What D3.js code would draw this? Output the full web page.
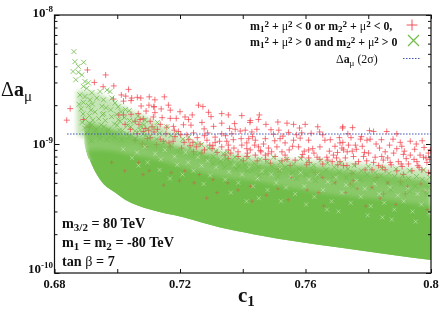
<!DOCTYPE html>
<html>
<head>
<meta charset="utf-8">
<script src="https://cdnjs.cloudflare.com/ajax/libs/d3/7.8.5/d3.min.js"></script>
<style>
html, body { margin: 0; padding: 0; background: #fff; }
svg { display: block; filter: blur(0.35px); }
text { font-family: "Liberation Serif", serif; font-weight: bold; fill: #111; }
</style>
</head>
<body>
<div id="chart"></div>
<script>
// all delta a values are in units of 1e-9
const xTicks = [0.68, 0.70, 0.72, 0.74, 0.76, 0.78, 0.80];
const xTickLabels = ['0.68', '', '0.72', '', '0.76', '', '0.8'];
const yMajor = [0.1, 1, 10];
const yExponents = ['-10', '-9', '-8'];
const yLabelShift = [0, 4, 2];
const yMinor = [0.2, 0.3, 0.4, 0.5, 0.6, 0.7, 0.8, 0.9, 2, 3, 4, 5, 6, 7, 8, 9];

const limitC1 = [0.684, 0.80];
const limitValue = 1.195;

// edges of the green mass
const massC1 = [0.6895, 0.6913, 0.6945, 0.6993, 0.7025, 0.7105, 0.721, 0.7328, 0.7433, 0.7592, 0.7701, 0.786, 0.80];
const massFloor = [1.02, 0.75, 0.53, 0.42, 0.37, 0.31, 0.27, 0.225, 0.2, 0.172, 0.158, 0.14, 0.126];
const massCeiling = [0.9, 0.9, 0.9, 0.88, 0.84, 0.78, 0.66, 0.56, 0.52, 0.44, 0.4, 0.37, 0.33];
const massHaze = [1.45, 1.45, 1.4, 1.3, 1.2, 1.1, 0.93, 0.8, 0.72, 0.68, 0.64, 0.58, 0.52];

// thin outer fringe of the mass
const fringeC1 = [0.687, 0.69, 0.695, 0.70, 0.705, 0.71, 0.715, 0.72, 0.73, 0.74, 0.76, 0.78, 0.80];
const fringeTop = [2.6, 2.6, 2.4, 2.1, 1.8, 1.6, 1.35, 1.15, 0.95, 0.82, 0.75, 0.7, 0.63];
const fringeBottom = [1.2, 1.1, 1.1, 1.0, 1.0, 0.9, 0.85, 0.8, 0.7, 0.6, 0.55, 0.5, 0.45];

const redPoints = [
  [.6839,1.53],[.685,1.88],[.6905,3.75],[.6927,3.0],[.6963,3.43],[.6955,2.78],[.6989,2.82],[.7036,2.65],[.7013,2.4],[.7027,2.35],
  [.7046,2.27],[.7064,2.3],[.7075,2.27],[.7102,2.32],[.6988,2.23],[.702,2.15],[.7044,2.17],[.7101,2.0],[.7117,1.94],[.7005,1.68],
  [.702,1.68],[.7044,1.7],[.7076,1.97],[.7092,1.8],[.7067,1.72],[.7057,1.5],[.7083,1.57],[.7073,1.55],[.7115,1.62],[.7089,1.32],
  [.71,1.28],[.7083,1.25],[.7111,1.36],[.7057,1.07],[.708,1.0],[.7092,.95],[.6911,1.35],[.6892,1.55],[.715,2.32],[.712,2.2],
  [.7117,1.95],[.714,1.87],[.7163,2.0],[.7169,1.83],[.712,1.75],[.7259,2.0],[.7273,1.95],[.7291,1.76],[.72,1.78],[.7216,1.62],
  [.7239,1.68],[.7169,1.58],[.7188,1.58],[.7227,1.55],[.7299,1.63],[.7333,1.72],[.7354,1.68],[.7397,1.66],[.7374,1.44],[.7423,1.47],
  [.727,1.47],[.7307,1.37],[.7333,1.45],[.7158,1.35],[.7179,1.37],[.7137,1.42],[.7211,1.41],[.7243,1.22],[.7277,1.31],[.7222,1.18],
  [.7184,1.14],[.7117,1.24],[.7345,1.16],[.7376,1.3],[.7392,1.26],[.7419,1.1],[.7333,1.2],[.7312,1.13],[.7312,1.03],[.737,1.08],
  [.7354,.98],[.7354,.9],[.7286,1.07],[.7264,1.0],[.7232,.97],[.7213,1.03],[.7169,.95],[.7137,1.09],[.7397,.98],[.7385,.87],
  [.7413,.92],[.7333,.95],[.7295,.98],[.727,.85],[.7243,.87],[.7354,.77],[.7385,.8],[.7155,1.2],[.7195,1.25],[.7255,1.12],
  [.7424,1.52],[.7453,1.68],[.745,1.55],[.7474,1.42],[.7512,1.48],[.7541,1.45],[.7562,1.42],[.7581,1.33],[.7599,1.42],[.7639,1.36],
  [.7718,1.33],[.7429,1.24],[.749,1.29],[.7498,1.19],[.7546,1.23],[.761,1.07],[.7519,1.1],[.7472,1.1],[.744,1.07],[.7413,1.02],
  [.7562,1.07],[.7583,1.11],[.7662,1.07],[.7646,.95],[.761,.9],[.7578,.95],[.7535,1.02],[.7509,.95],[.7482,.93],[.745,.95],
  [.7424,.9],[.7694,.96],[.771,1.02],[.7721,.9],[.744,.82],[.7413,.8],[.7472,.82],[.7503,.8],[.7535,.82],[.7567,.75],
  [.7588,.79],[.761,.78],[.7646,.76],[.7668,.79],[.7689,.82],[.771,.73],[.7721,.68],[.7551,.68],[.7631,.6],[.7514,.63],
  [.7719,1.36],[.775,1.34],[.7804,1.27],[.7859,1.25],[.7891,1.2],[.7817,1.25],[.7796,1.07],[.7806,1.09],[.7879,1.09],[.7934,1.05],
  [.7953,1.0],[.7775,1.09],[.7719,1.03],[.7737,.98],[.7759,.98],[.7716,.93],[.7907,.96],[.7891,.92],[.7836,.93],[.7854,.87],
  [.7843,.8],[.7881,.85],[.7912,.83],[.7934,.82],[.7965,.82],[.7992,.85],[.7976,.79],[.7785,.8],[.7801,.85],[.7753,.8],
  [.7727,.78],[.7769,.73],[.7817,.72],[.7833,.68],[.787,.72],[.7896,.73],[.7928,.7],[.7955,.73],[.7987,.72],[.7732,.68],
  [.779,.63],[.7812,.63],[.7854,.63],[.7891,.62],[.7939,.62],[.7971,.63],[.7992,.6],[.7748,.59],[.7912,.58],[.7828,.55],
  [.7902,.51],[.7743,.49],[.7849,.41],[.7918,.41],[.7981,.43],[.7446,.74],[.7488,.71],[.7525,.74],[.7604,.69],[.7655,.7],
  [.7685,.73],[.7702,.86],[.7676,.88],[.7627,.85],[.7596,.88],[.7548,.9],[.7492,.87],[.7458,.87],[.7431,1.14],[.7466,1.0],
  [.7502,1.06],[.7528,1.15],[.7571,1.18],[.7618,1.21],[.7655,1.18],[.7679,1.08],[.7708,1.12],[.7745,1.12],[.7781,.96],[.7825,1.0],
  [.7868,.98],[.7915,.88],[.7948,.91],[.7978,.94],[.7995,.76],[.7958,.68],[.7908,.67],[.7862,.78],[.7795,.74],[.7749,.88],
  [.7105,1.12],[.7128,1.3],[.7148,1.05],[.7178,1.05],[.7202,1.18],[.7228,1.08],[.7252,.95],[.7278,1.16],[.7302,.92],[.7326,1.05],
  [.7365,1.2],[.7395,1.1],[.7408,1.28],[.7362,.85],[.7344,.82],[.7402,.74],[.7318,.86],
  [.7438,.98],[.7456,.89],[.7481,.84],[.7525,.87],[.7559,.96],[.7591,.83],[.7623,.92],[.7637,.79],[.7671,.75],[.7699,.78],
  [.7733,.87],[.7762,.91],[.7788,.86],[.7822,.79],[.7848,.75],[.7873,.69],[.7921,.77],[.7946,.76],[.7984,.78],[.7998,.9],
  [.7473,.76],[.7541,.76],[.7612,.72],[.7703,.69],[.7759,.7],[.7845,.66],[.7905,.7],[.7962,.66],[.7415,.85],[.7372,.93],
  [.7349,1.05],[.7305,.97],[.7278,.9],[.7241,1.03],[.7205,.93],[.7165,1.02],[.7125,.99],[.7096,1.1],[.7064,1.2],[.7042,1.3],
  [.7025,1.42],[.7069,1.42],[.7105,1.5],[.7143,1.6],[.7182,1.28],[.7235,1.4],[.7288,1.22],[.7358,1.32],[.7445,1.3],[.7515,1.28],
  [.7588,1.22],[.7645,1.24],[.7735,1.2],[.7778,1.14],[.7842,1.08],[.7902,1.03],[.7972,1.06]
];

const greenPoints = [
  [.6862,5.2],[.6865,4.35],[.6893,4.3],[.6876,4.0],[.6859,3.65],[.6876,3.6],[.6887,3.43],[.6868,3.15],[.6897,3.05],[.6908,2.98],
  [.6892,2.8],[.6903,2.7],[.6881,2.4],[.6897,2.33],[.6919,2.5],[.6945,2.55],[.6967,2.62],[.6977,2.55],[.6878,2.03],[.6892,2.1],
  [.6913,2.2],[.6935,2.27],[.6956,2.2],[.6983,2.27],[.6885,1.87],[.6908,1.99],[.6921,2.04],[.6951,1.96],[.6964,1.91],[.6993,2.08],
  [.7003,1.94],[.7026,1.85],[.6891,1.71],[.6916,1.83],[.6929,1.77],[.6957,1.72],[.6979,1.84],[.6998,1.7],[.7012,1.78],[.7038,1.81],
  [.6899,1.55],[.6911,1.66],[.6941,1.57],[.6953,1.69],[.6982,1.63],[.7004,1.54],[.7023,1.6],[.7039,1.52],[.7066,1.64],[.6888,1.47],
  [.6912,1.44],[.6922,1.53],[.6949,1.41],[.6962,1.52],[.6991,1.43],[.7009,1.5],[.7033,1.39],[.7053,1.49],[.7076,1.37],[.7089,1.53],
  [.6896,1.33],[.6919,1.41],[.6933,1.3],[.6958,1.36],[.6972,1.29],[.7,1.4],[.7016,1.27],[.7043,1.36],[.7057,1.26],[.7085,1.41],
  [.7098,1.3],[.7128,1.47],[.6903,1.22],[.6928,1.27],[.6942,1.19],[.6968,1.25],[.6982,1.17],[.7007,1.28],[.7031,1.2],[.7045,1.15],
  [.7073,1.29],[.7091,1.16],[.7118,1.33],[.7135,1.21],[.7158,1.36],[.7171,1.16],[.7192,1.21],[.7209,1.09],[.7228,1.13],[.7251,1.01],
  [.7268,.99],[.7291,.93],[.7314,.88],[.7338,.84],[.7352,.86],[.7375,.79],[.7395,.75],[.7418,.78],[.7437,.71],[.7455,.76],
  [.7478,.73],[.7498,.79],[.752,.72],[.754,.76],[.7562,.7],[.7584,.77],[.7606,.74],[.7626,.68],[.7648,.75],[.767,.71],
  [.7692,.66],[.7712,.71],[.7735,.64],[.7755,.68],[.7778,.62],[.78,.67],[.7822,.6],[.7844,.65],[.7866,.59],[.7888,.64],
  [.791,.57],[.7932,.62],[.7954,.56],[.7976,.63],[.7996,.55],[.7362,.72],[.7388,.67],[.7408,.69],[.743,.63],[.745,.66],
  [.7472,.6],[.7494,.67],[.7516,.62],[.7536,.66],[.7558,.6],[.758,.64],[.7602,.58],[.7622,.63],[.7644,.57],[.7666,.63],
  [.7688,.56],[.7708,.61],[.773,.55],[.7752,.6],[.7774,.53],[.7796,.58],[.7818,.52],[.784,.57],[.7862,.5],[.7884,.56],
  [.7906,.49],[.7928,.54],[.795,.47],[.7972,.53],[.7992,.46],[.7262,.85],[.7284,.78],[.7306,.8],[.7328,.73],[.7348,.77],
  [.7172,.97],[.7148,1.03],[.7125,1.09],[.7105,1.14],[.7082,1.19],[.7058,1.1],[.7036,1.14],[.7014,1.08],[.6992,1.12],[.6966,1.08],
  [.6945,1.1],[.6918,1.06],[.7195,.88],[.7232,.92],[.7248,.84],[.7305,.7],[.7342,.66],[.7378,.64],[.7415,.62],[.7452,.57],
  [.7512,.56],[.7572,.54],[.7632,.52],[.7692,.5],[.7752,.47],[.7812,.46],[.7872,.44],[.7932,.43],[.7988,.41]
];

// red crosses that show through the green mass
const redOnTop = [
  [.7172,.6],[.7215,.62],[.7198,.52],[.7245,.5],[.7262,.58],[.7305,.53],[.7318,.42],[.7102,.62],[.7148,.48],[.7068,.72],
  [.7082,.58],[.7024,.62],[.6982,.72],[.7352,.5],[.7385,.44],[.7425,.47],[.7475,.4],[.7512,.45],[.7555,.55],[.7605,.44],
  [.7642,.42],[.7695,.5],[.7728,.42],[.7765,.45],[.7812,.46],[.7862,.5],[.7925,.47],[.7968,.49],[.7888,.34],[.7792,.33],
  [.7658,.33],[.7545,.37],[.743,.36],[.7285,.38],[.7655,.55],[.7752,.52],[.7838,.38],[.7988,.31]
];

// white gaps left in the mass between the crosses
const massGaps = [
  [.7019,.91],[.7047,.78],[.7063,.86],[.7088,.95],[.7097,.72],[.7121,.84],[.7139,.76],[.7152,.9],[.7183,.8],[.7191,.69],
  [.7218,.86],[.7226,.72],[.7243,.62],[.7257,.79],[.7269,.68],[.7288,.74],[.7296,.57],[.7315,.66],[.7331,.77],[.7344,.53],
  [.7356,.61],[.7372,.69],[.7386,.5],[.7398,.58],[.7421,.66],[.7433,.47],[.7447,.54],[.7462,.62],[.7479,.44],[.7491,.58],
  [.7507,.5],[.7519,.64],[.7538,.46],[.7553,.56],[.7567,.41],[.7584,.6],[.7596,.47],[.7611,.53],[.7628,.39],[.7639,.58],
  [.7656,.44],[.7671,.51],[.7683,.36],[.7697,.55],[.7716,.42],[.7729,.48],[.7744,.35],[.7763,.52],[.7776,.39],[.7789,.45],
  [.7808,.33],[.7821,.49],[.7835,.41],[.7851,.35],[.7869,.46],[.7883,.31],[.7894,.4],[.7913,.36],[.7926,.45],[.7941,.3],
  [.7957,.41],[.7969,.34],[.7983,.44],[.7994,.29],[.7208,.58],[.7275,.49],[.7362,.42],[.7451,.38],[.7522,.36],[.7602,.34],
  [.7705,.3],[.7798,.28],[.7875,.26],[.7951,.25],[.7135,.63],[.7168,.54],[.7068,.68],[.7412,.36],[.7668,.31],[.7845,.27]
];

const width = 441;
const height = 319;
const margin = { left: 54.5, right: 10, top: 15, bottom: 46 };

const svg = d3.select('#chart')
  .append('svg')
  .attr('width', width)
  .attr('height', height);

const x = d3.scaleLinear().domain([0.68, 0.80]).range([margin.left, width - margin.right]);
const y = d3.scaleLog().domain([0.1, 10]).range([height - margin.bottom, margin.top]);

const defs = svg.append('defs');

defs.append('filter')
  .attr('id', 'soft')
  .attr('x', '-5%').attr('y', '-10%').attr('width', '110%').attr('height', '120%')
  .append('feGaussianBlur')
  .attr('stdDeviation', 2);

// soft layers must not spill under the lower edge of the mass
defs.append('clipPath')
  .attr('id', 'aboveFloor')
  .append('path')
  .attr('d', d3.area()
    .curve(d3.curveMonotoneX)
    .x((d, i) => x(massC1[i]))
    .y0((d, i) => y(massFloor[i]))
    .y1(margin.top)(massC1));

const redColor = '#f2404a';
const greenColor = '#70bd4a';

const marks = svg.append('g');

const fringeArea = d3.area()
  .curve(d3.curveMonotoneX)
  .x((d, i) => x(fringeC1[i]))
  .y0((d, i) => y(fringeBottom[i]))
  .y1((d, i) => y(fringeTop[i]));

// haze runs down under the solid part so no step shows at the ceiling
const hazeArea = d3.area()
  .curve(d3.curveMonotoneX)
  .x((d, i) => x(massC1[i]))
  .y0((d, i) => y(massFloor[i]))
  .y1((d, i) => y(massHaze[i]));

const massArea = d3.area()
  .curve(d3.curveMonotoneX)
  .x((d, i) => x(massC1[i]))
  .y0((d, i) => y(massFloor[i]))
  .y1((d, i) => y(massCeiling[i]));

marks.append('path')
  .datum(fringeC1)
  .attr('d', fringeArea)
  .attr('fill', greenColor)
  .attr('fill-opacity', 0.4)
  .attr('filter', 'url(#soft)');

marks.append('g')
  .selectAll('path')
  .data(redPoints)
  .enter()
  .append('path')
  .attr('d', d => `M${x(d[0]) - 3},${y(d[1])}h6M${x(d[0])},${y(d[1]) - 3}v6`)
  .attr('stroke', redColor)
  .attr('stroke-opacity', 0.8)
  .attr('stroke-width', 0.9)
  .attr('fill', 'none');

const softLayers = marks.append('g').attr('clip-path', 'url(#aboveFloor)');

softLayers.append('path')
  .datum(massC1)
  .attr('d', hazeArea)
  .attr('fill', greenColor)
  .attr('fill-opacity', 0.82)
  .attr('filter', 'url(#soft)');

softLayers.append('path')
  .datum(massC1)
  .attr('d', massArea)
  .attr('fill', greenColor)
  .attr('filter', 'url(#soft)');

// solid core with a crisp lower edge
marks.append('path')
  .datum(massC1)
  .attr('d', d3.area()
    .curve(d3.curveMonotoneX)
    .x((d, i) => x(massC1[i]))
    .y0((d, i) => y(massFloor[i]))
    .y1((d, i) => y(Math.max(massFloor[i], massCeiling[i] * 0.8))))
  .attr('fill', greenColor);

marks.append('g')
  .selectAll('path')
  .data(massGaps)
  .enter()
  .append('path')
  .attr('d', d => `M${x(d[0]) - 2},${y(d[1]) - 2}l4,4M${x(d[0]) - 2},${y(d[1]) + 2}l4,-4`)
  .attr('stroke', '#fff')
  .attr('stroke-opacity', 0.45)
  .attr('stroke-width', 0.8)
  .attr('fill', 'none');

marks.append('g')
  .selectAll('path')
  .data(greenPoints)
  .enter()
  .append('path')
  .attr('d', d => `M${x(d[0]) - 2.5},${y(d[1]) - 2.5}l5,5M${x(d[0]) - 2.5},${y(d[1]) + 2.5}l5,-5`)
  .attr('stroke', greenColor)
  .attr('stroke-width', 0.8)
  .attr('fill', 'none');

marks.append('g')
  .selectAll('path')
  .data(redOnTop)
  .enter()
  .append('path')
  .attr('d', d => `M${x(d[0]) - 2},${y(d[1])}h4M${x(d[0])},${y(d[1]) - 2}v4`)
  .attr('stroke', redColor)
  .attr('stroke-opacity', 0.45)
  .attr('stroke-width', 0.8)
  .attr('fill', 'none');

// 2 sigma line
svg.append('line')
  .attr('x1', x(limitC1[0]))
  .attr('x2', x(limitC1[1]))
  .attr('y1', y(limitValue))
  .attr('y2', y(limitValue))
  .attr('stroke', '#3f55b5')
  .attr('stroke-width', 1.2)
  .attr('stroke-dasharray', '1.5,1.5');

// frame and ticks
const axisColor = '#111';

function styleAxis(g) {
  g.selectAll('.domain').remove();
  g.selectAll('line').attr('stroke', axisColor).attr('stroke-width', 1);
  g.selectAll('text').remove();
}

const plotBottom = height - margin.bottom;
const plotRight = width - margin.right;

// white strip keeps the crosses inside the frame
svg.append('rect').attr('x', plotRight).attr('y', 0).attr('width', margin.right).attr('height', height).attr('fill', '#fff');

svg.append('g').attr('transform', `translate(0,${plotBottom})`)
  .call(d3.axisBottom(x).tickValues(xTicks).tickSize(-4)).call(styleAxis);
svg.append('g').attr('transform', `translate(0,${margin.top})`)
  .call(d3.axisTop(x).tickValues(xTicks).tickSize(-4)).call(styleAxis);
svg.append('g').attr('transform', `translate(${margin.left},0)`)
  .call(d3.axisLeft(y).tickValues(yMajor).tickSize(-5)).call(styleAxis);
svg.append('g').attr('transform', `translate(${margin.left},0)`)
  .call(d3.axisLeft(y).tickValues(yMinor).tickSize(-3)).call(styleAxis);
svg.append('g').attr('transform', `translate(${plotRight},0)`)
  .call(d3.axisRight(y).tickValues(yMajor).tickSize(-5)).call(styleAxis);
svg.append('g').attr('transform', `translate(${plotRight},0)`)
  .call(d3.axisRight(y).tickValues(yMinor).tickSize(-3)).call(styleAxis);

svg.append('rect')
  .attr('x', margin.left)
  .attr('y', margin.top)
  .attr('width', plotRight - margin.left)
  .attr('height', plotBottom - margin.top)
  .attr('fill', 'none')
  .attr('stroke', axisColor)
  .attr('stroke-width', 1.2);

// tick labels
svg.append('g')
  .selectAll('text')
  .data(xTicks)
  .enter()
  .append('text')
  .attr('x', d => x(d))
  .attr('y', 288)
  .attr('text-anchor', 'middle')
  .attr('font-size', 12.5)
  .text((d, i) => xTickLabels[i]);

yMajor.forEach((v, i) => {
  const t = svg.append('text')
    .attr('x', 53)
    .attr('y', y(v) + yLabelShift[i])
    .attr('text-anchor', 'end')
    .attr('font-size', 13);
  t.append('tspan').text('10');
  t.append('tspan').attr('dy', -5).attr('font-size', 9).text(yExponents[i]);
});

// writes [text, shift] runs, shift in px: negative goes up
function runs(x0, y0, size, parts) {
  const t = svg.append('text').attr('x', x0).attr('y', y0).attr('font-size', size);
  let last = 0;
  parts.forEach(p => {
    const shift = p[1] || 0;
    t.append('tspan')
      .attr('dy', shift - last)
      .attr('font-size', p[2] || size)
      .attr('font-weight', p[3] || 'bold')
      .text(p[0]);
    last = shift;
  });
  return t;
}

// axis titles
runs(1, 96, 20, [['Δ', 0, 20, 'normal'], ['a', 0], ['μ', 5, 15, 'normal']]);
runs(238, 302, 21, [['c', 0], ['1', 4, 15]]);

// legend
const legendSize = 11.9;
runs(250, 30, legendSize, [['m', 0], ['1', 2, 9], ['2', -3, 9], [' + ', 0], ['μ', 0, legendSize, 'normal'], ['2', -3, 9],
  [' < 0 or m', 0], ['2', 2, 9], ['2', -3, 9], [' + ', 0], ['μ', 0, legendSize, 'normal'], ['2', -3, 9], [' < 0,', 0]]);
runs(250, 46, legendSize, [['m', 0], ['1', 2, 9], ['2', -3, 9], [' + ', 0], ['μ', 0, legendSize, 'normal'], ['2', -3, 9],
  [' > 0 and m', 0], ['2', 2, 9], ['2', -3, 9], [' + ', 0], ['μ', 0, legendSize, 'normal'], ['2', -3, 9], [' > 0', 0]]);
runs(336, 63, legendSize, [['Δ', 0, legendSize, 'normal'], ['a', 0], ['μ', 3, 9, 'normal'], [' (2σ)', 0, legendSize, 'normal']]);

svg.append('path').attr('d', 'M406.5,25h11M412,19.5v11')
  .attr('stroke', redColor).attr('stroke-width', 0.9).attr('fill', 'none');
svg.append('path').attr('d', 'M408,35l11,11M408,46l11,-11')
  .attr('stroke', greenColor).attr('stroke-width', 1.2).attr('fill', 'none');
svg.append('line').attr('x1', 403).attr('x2', 420).attr('y1', 58.5).attr('y2', 58.5)
  .attr('stroke', '#3f55b5').attr('stroke-width', 1.2).attr('stroke-dasharray', '1.5,1.5');

// parameters
const noteSize = 14.2;
runs(62, 228, noteSize, [['m', 0], ['3/2', 3, 11], [' = 80 TeV', 0]]);
runs(62, 247, noteSize, [['m', 0], ['1', 3, 11], [' = m', 0], ['2', 3, 11], [' = -80 TeV', 0]]);
runs(62, 266, noteSize, [['tan ', 0], ['β', 0, noteSize, 'normal'], [' = 7', 0]]);
</script>
</body>
</html>
